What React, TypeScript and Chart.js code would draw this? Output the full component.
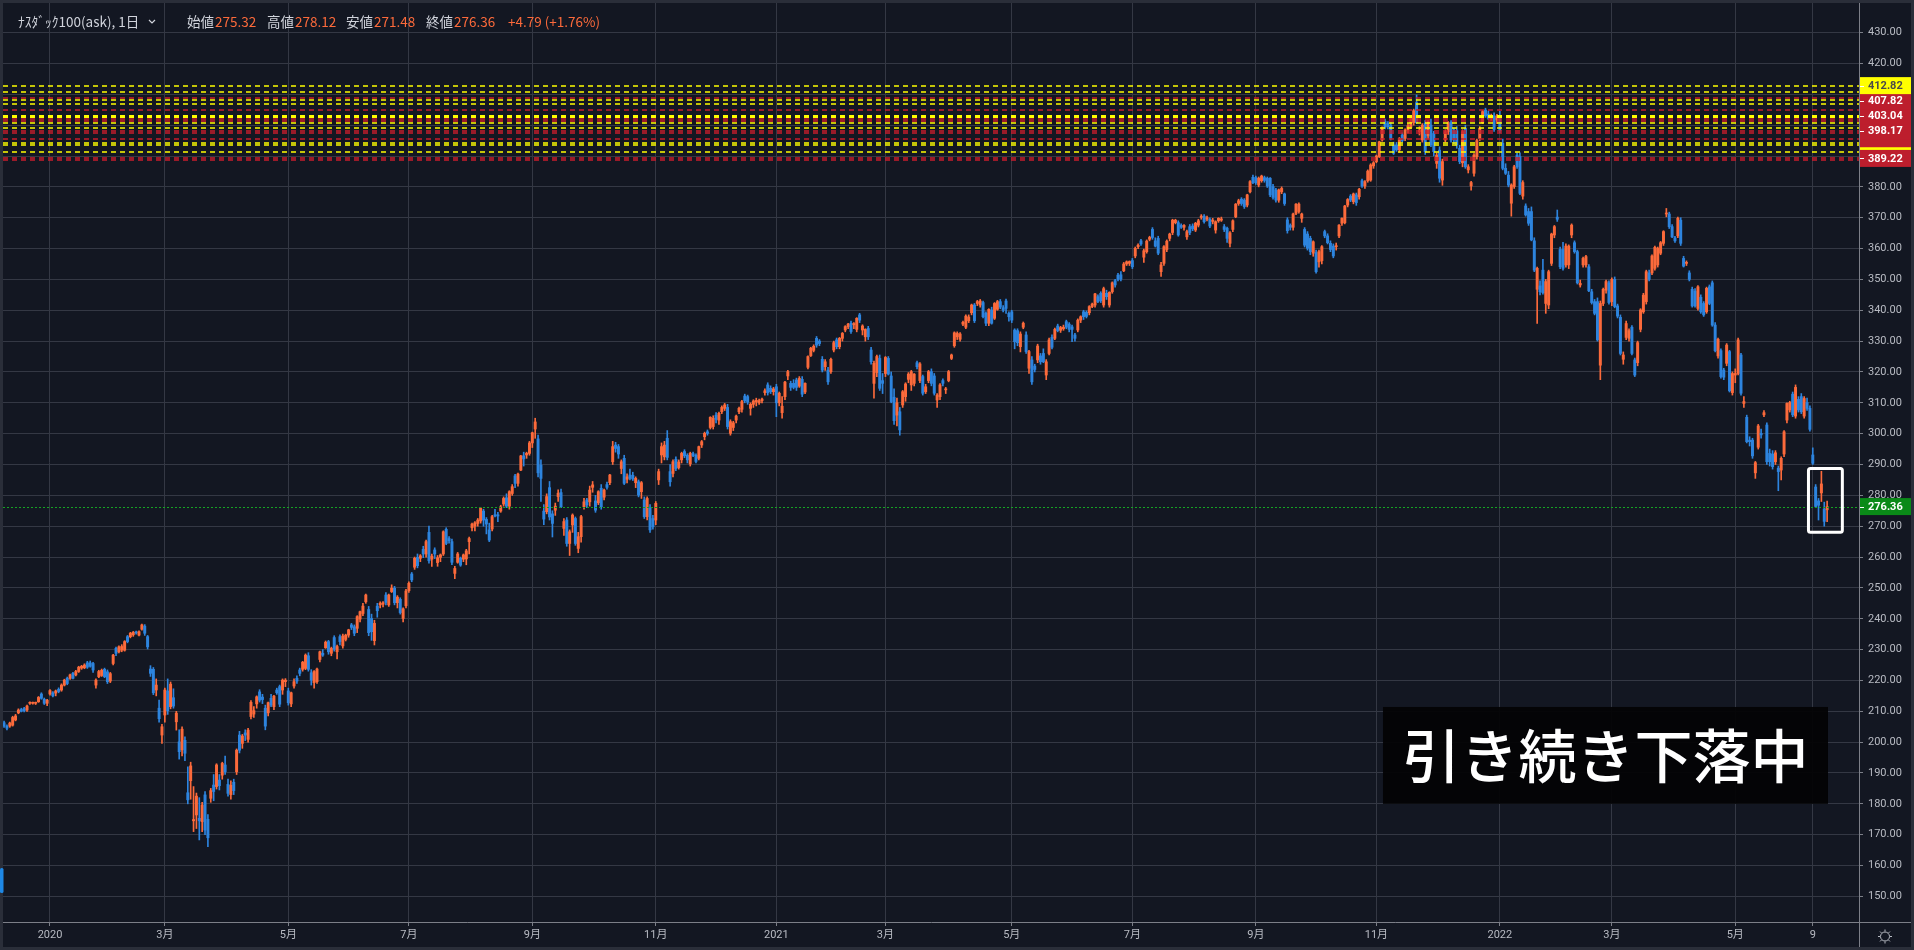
import { useEffect, useRef } from "react";
import { Chart, registerables } from "chart.js";

Chart.register(...registerables);

// [open, high, low, close] per trading day
type Candle = [number, number, number, number];

const dec2019: Candle[] = [
  [206.3, 206.8, 204.8, 205.2], [205.2, 205.6, 204.0, 204.5], [205.2, 206.5, 204.8, 206.2], [205.5, 208.4, 205.2, 208.0],
  [207.2, 209.0, 206.9, 208.5], [209.5, 210.8, 209.2, 210.4], [210.6, 211.0, 209.8, 210.0], [210.9, 211.3, 209.8, 210.2],
  [210.4, 212.0, 210.0, 211.7], [212.6, 213.1, 212.2, 212.8], [212.6, 213.0, 212.3, 212.9], [212.6, 213.0, 212.2, 212.8],
  [213.1, 214.8, 212.9, 214.5], [215.6, 216.0, 213.9, 214.2], [213.9, 214.3, 212.2, 212.6], [212.6, 213.9, 211.8, 213.6],
];
const jan2020: Candle[] = [
  [215.6, 217.0, 215.2, 216.7], [216.0, 216.4, 214.7, 215.0], [215.9, 216.9, 215.0, 216.6], [217.1, 217.6, 216.0, 216.4],
  [216.9, 218.9, 216.5, 218.5], [218.5, 220.4, 218.2, 220.1], [220.7, 221.1, 218.6, 219.0], [220.7, 222.1, 220.3, 221.8],
  [222.3, 222.6, 220.5, 220.7], [221.8, 223.3, 221.5, 222.9], [222.9, 224.6, 222.6, 224.3], [224.0, 224.9, 223.6, 224.6],
  [224.1, 225.4, 223.8, 225.0], [225.7, 226.2, 223.9, 224.3], [225.7, 226.3, 224.3, 224.6], [225.5, 225.9, 222.6, 223.4],
  [218.5, 220.5, 217.5, 220.1], [221.2, 223.3, 220.9, 222.9], [221.6, 223.7, 221.3, 223.3], [223.6, 224.0, 220.9, 221.2],
  [222.8, 223.4, 219.0, 219.6],
];
const feb2020: Candle[] = [
  [219.8, 222.6, 219.3, 222.2], [225.5, 228.5, 225.0, 228.2], [230.4, 230.8, 228.0, 228.8], [229.3, 231.2, 228.9, 230.9],
  [229.8, 231.6, 229.3, 231.0], [229.8, 232.9, 229.5, 232.6], [234.2, 234.6, 232.2, 232.6], [234.2, 235.6, 233.8, 235.3],
  [234.8, 235.9, 234.3, 235.6], [235.6, 236.0, 235.0, 235.4], [234.7, 236.1, 234.4, 235.8], [236.6, 238.3, 236.3, 238.0],
  [237.6, 238.1, 234.6, 235.3], [234.2, 234.6, 230.2, 230.9], [223.7, 224.8, 221.3, 222.3], [223.6, 224.2, 215.4, 216.0],
  [216.9, 220.5, 215.0, 218.5], [211.0, 213.6, 206.5, 207.6], [202.3, 205.8, 199.6, 205.0],
];
const mar2020: Candle[] = [
  [208.8, 217.5, 206.5, 216.9], [216.6, 220.5, 209.0, 210.2], [211.5, 219.5, 210.8, 218.8], [214.4, 217.3, 211.0, 211.7],
  [206.6, 210.0, 203.9, 209.4], [200.1, 204.0, 194.5, 196.9], [197.5, 205.0, 195.5, 204.2], [200.6, 201.7, 194.0, 196.4],
  [183.6, 192.0, 180.0, 181.3], [187.5, 193.5, 181.5, 192.3], [174.5, 185.6, 171.0, 174.9], [176.4, 183.5, 172.0, 182.5],
  [175.3, 182.0, 168.3, 174.5], [174.2, 180.5, 171.0, 179.6], [182.9, 184.0, 170.0, 171.5], [175.0, 176.5, 166.1, 169.0],
  [181.8, 185.0, 180.5, 184.3], [186.1, 189.5, 181.0, 184.0], [185.6, 193.0, 184.8, 192.6], [187.7, 189.5, 184.5, 185.9],
  [189.3, 193.5, 188.0, 193.1], [192.6, 195.5, 189.5, 190.4],
];
const apr2020: Candle[] = [
  [186.3, 188.0, 182.5, 183.4], [183.0, 187.5, 181.5, 186.0], [187.0, 188.0, 183.0, 184.3], [190.4, 197.8, 189.5, 197.4],
  [202.3, 203.5, 196.5, 197.4], [199.6, 202.5, 198.0, 202.0], [203.0, 204.0, 200.5, 202.3], [200.9, 204.5, 200.0, 203.9],
  [208.3, 213.5, 207.5, 212.9], [209.1, 211.5, 208.0, 210.2], [212.4, 215.0, 211.0, 214.7], [216.3, 217.0, 213.0, 213.6],
  [214.6, 215.5, 212.5, 213.8], [211.0, 212.0, 204.0, 205.2], [209.5, 213.0, 208.5, 212.8], [214.2, 215.5, 211.5, 212.0],
  [211.5, 215.2, 210.5, 214.9], [216.9, 217.5, 215.5, 216.0], [218.0, 218.5, 211.5, 212.3], [216.9, 220.5, 215.5, 220.1],
  [219.6, 220.6, 218.0, 220.1],
];
const may2020: Candle[] = [
  [216.6, 217.5, 212.0, 212.8], [212.4, 216.2, 211.5, 216.0], [218.2, 220.5, 217.5, 219.6], [220.7, 221.5, 219.0, 219.8],
  [223.4, 224.0, 221.5, 222.3], [223.6, 226.2, 223.0, 225.9], [223.9, 228.6, 223.5, 228.2], [228.0, 229.0, 223.0, 223.6],
  [222.5, 223.5, 218.5, 220.1], [219.3, 223.2, 217.5, 222.9], [219.6, 224.0, 219.0, 223.7], [226.8, 229.5, 226.0, 229.3],
  [228.8, 230.0, 227.8, 228.2], [230.6, 232.8, 230.4, 232.4], [232.6, 233.0, 228.5, 229.3], [228.8, 230.8, 228.0, 230.4],
  [233.9, 234.5, 229.5, 230.1], [229.3, 231.5, 227.0, 231.0], [234.2, 234.8, 231.5, 232.6], [231.2, 235.0, 230.5, 234.4],
];
const jun2020: Candle[] = [
  [233.3, 235.0, 232.8, 234.7], [234.7, 236.6, 234.0, 236.4], [238.0, 238.5, 236.5, 237.2], [237.4, 238.0, 234.5, 235.3],
  [236.9, 241.0, 235.5, 240.7], [239.9, 242.5, 239.0, 242.3], [241.7, 245.0, 241.0, 244.1], [245.5, 248.0, 245.0, 247.7],
  [243.0, 244.0, 234.5, 235.5], [240.1, 241.5, 233.0, 235.8], [232.9, 239.5, 231.5, 238.5], [244.1, 245.0, 240.5, 242.6],
  [244.5, 245.5, 243.5, 245.0], [244.7, 245.6, 243.8, 245.2], [247.7, 248.5, 244.5, 245.3], [244.5, 248.0, 244.0, 247.7],
  [248.8, 251.0, 248.5, 249.9], [249.9, 250.5, 244.5, 245.2], [245.2, 247.5, 243.5, 247.0], [246.3, 246.8, 241.5, 242.0],
  [240.1, 243.5, 239.0, 243.2], [244.2, 249.5, 243.5, 249.0],
];
const jul2020: Candle[] = [
  [249.1, 252.0, 248.5, 251.5], [254.5, 255.0, 252.0, 252.6], [256.7, 260.0, 256.0, 259.6], [259.9, 261.0, 256.5, 257.2],
  [259.6, 260.8, 258.5, 260.4], [262.5, 263.5, 259.8, 261.0], [261.0, 265.5, 260.0, 265.0], [268.0, 270.0, 258.0, 258.8],
  [259.3, 261.0, 257.0, 260.3], [262.3, 263.0, 259.5, 261.0], [258.2, 260.5, 257.0, 259.8], [259.9, 261.0, 258.5, 260.7],
  [261.0, 268.5, 260.5, 268.2], [269.0, 269.5, 264.0, 264.4], [266.0, 266.6, 264.5, 265.3], [265.0, 265.8, 257.5, 258.3],
  [254.7, 257.0, 253.0, 256.3], [258.3, 261.5, 258.0, 261.0], [259.6, 260.0, 257.0, 257.4], [259.3, 261.0, 258.5, 260.7],
  [259.4, 262.5, 257.5, 262.0], [265.0, 266.5, 261.0, 266.0],
];
const aug2020: Candle[] = [
  [269.5, 271.0, 268.5, 270.7], [270.0, 271.5, 268.5, 271.1], [270.9, 272.5, 270.0, 272.0], [271.7, 276.0, 271.0, 275.8],
  [274.9, 275.5, 270.0, 272.0], [272.2, 272.8, 267.5, 270.7], [268.8, 271.0, 265.0, 265.5], [269.1, 273.5, 268.5, 273.1],
  [273.7, 275.5, 273.0, 273.3], [273.7, 274.5, 271.5, 273.3], [274.9, 276.8, 274.5, 276.3], [277.2, 279.5, 276.5, 279.0],
  [279.2, 280.5, 276.0, 276.5], [276.5, 281.5, 275.5, 281.2], [280.6, 283.5, 280.0, 282.8], [286.3, 286.8, 282.5, 283.9],
  [283.9, 287.2, 283.0, 286.9], [288.2, 293.0, 288.0, 292.8], [292.8, 294.0, 289.5, 291.8], [293.1, 294.0, 292.0, 293.6],
  [293.6, 297.5, 293.0, 297.0],
];
const sep2020: Candle[] = [
  [297.0, 300.5, 295.5, 300.3], [301.5, 305.0, 298.5, 303.8], [298.3, 299.5, 286.0, 287.3], [289.8, 291.5, 278.0, 285.5],
  [274.9, 277.0, 270.5, 272.3], [274.7, 280.5, 274.0, 279.6], [282.5, 284.5, 272.0, 273.0], [274.0, 275.0, 266.5, 270.9],
  [275.2, 277.5, 273.5, 276.5], [279.6, 281.8, 278.0, 280.7], [280.9, 282.0, 276.0, 276.3], [269.3, 272.5, 267.0, 271.5],
  [272.0, 272.8, 263.5, 264.4], [264.4, 268.8, 260.5, 268.2], [270.4, 274.0, 268.0, 273.6], [272.5, 273.0, 263.8, 264.4],
  [262.8, 268.0, 261.4, 266.6], [266.6, 273.5, 264.8, 273.1], [276.3, 279.0, 275.5, 277.9], [278.5, 279.0, 276.0, 276.9],
  [277.9, 283.0, 276.5, 281.7],
];
const oct2020: Candle[] = [
  [282.6, 284.5, 281.0, 283.4], [278.2, 280.0, 274.5, 275.2], [277.6, 281.5, 277.0, 281.2], [282.3, 283.5, 275.5, 276.3],
  [279.4, 282.0, 278.5, 281.7], [283.5, 284.3, 282.0, 282.6], [284.1, 286.8, 283.5, 286.6], [290.9, 297.5, 290.0, 295.8],
  [296.3, 297.2, 294.0, 295.2], [295.8, 296.5, 292.0, 293.4], [288.7, 291.5, 287.0, 290.9], [292.0, 293.0, 283.5, 283.9],
  [285.2, 287.0, 284.0, 286.0], [286.6, 288.5, 285.0, 285.5], [286.5, 287.5, 284.8, 285.3], [284.1, 286.0, 282.5, 285.5],
  [284.4, 285.0, 279.5, 280.1], [281.2, 284.5, 279.0, 284.1], [278.5, 279.5, 272.5, 273.1], [273.1, 279.5, 272.0, 279.0],
  [275.8, 277.0, 268.0, 268.8], [272.5, 273.5, 269.0, 269.8],
];
const nov2020: Candle[] = [
  [272.0, 278.0, 270.5, 277.4], [285.0, 288.5, 283.5, 287.7], [293.1, 297.0, 290.5, 295.8], [292.5, 297.5, 291.5, 296.3],
  [298.5, 301.0, 291.5, 292.3], [287.7, 290.0, 283.0, 284.4], [287.1, 291.5, 286.0, 290.9], [291.7, 292.5, 288.0, 288.7],
  [289.0, 291.5, 288.5, 290.8], [291.5, 294.0, 290.5, 293.6], [294.2, 294.8, 292.2, 292.8], [293.0, 293.5, 290.5, 291.5],
  [290.2, 294.0, 289.5, 293.6], [293.5, 294.0, 292.5, 292.9], [293.0, 293.5, 290.5, 291.0], [292.0, 296.0, 291.5, 295.8],
  [296.3, 297.8, 295.5, 297.4], [299.0, 300.5, 298.0, 300.1], [300.6, 301.2, 299.5, 300.1], [302.0, 305.5, 301.5, 305.3],
];
const dec2020: Candle[] = [
  [302.3, 305.8, 301.5, 305.0], [306.0, 306.8, 303.5, 304.6], [304.4, 307.0, 303.0, 306.6], [307.1, 309.0, 306.5, 308.5],
  [308.2, 309.8, 307.5, 309.3], [308.5, 309.5, 301.5, 302.3], [300.1, 304.5, 299.5, 303.9], [302.0, 304.0, 301.0, 303.5],
  [304.4, 306.0, 303.5, 305.7], [307.1, 308.6, 306.5, 308.2], [307.9, 310.8, 307.0, 310.4], [312.2, 312.8, 310.0, 310.7],
  [312.0, 312.5, 309.5, 310.2], [308.2, 310.0, 306.0, 309.5], [309.5, 311.0, 308.5, 310.6], [310.3, 311.5, 309.0, 310.8],
  [310.0, 311.2, 309.5, 310.7], [310.7, 311.5, 310.0, 311.2], [313.3, 314.5, 312.5, 313.9], [315.8, 316.5, 312.5, 313.3],
  [314.7, 315.5, 313.0, 313.6], [313.6, 315.0, 312.5, 314.5],
];
const jan2021: Candle[] = [
  [315.2, 316.0, 305.5, 310.0], [310.0, 313.5, 309.0, 313.1], [306.8, 312.0, 305.0, 308.9], [312.0, 317.0, 311.0, 316.7],
  [318.7, 320.5, 317.5, 320.1], [316.3, 317.0, 314.0, 315.0], [316.3, 317.5, 314.5, 315.0], [317.4, 318.0, 314.0, 315.0],
  [315.4, 318.5, 315.0, 317.9], [317.6, 318.5, 312.0, 312.8], [313.5, 316.5, 313.0, 316.3], [321.5, 325.2, 321.0, 325.0],
  [325.3, 328.0, 325.0, 327.7], [327.0, 328.8, 326.5, 328.3], [330.9, 331.5, 328.0, 328.7], [330.0, 330.5, 328.5, 329.2],
  [324.1, 325.0, 320.0, 320.6], [321.7, 324.0, 320.5, 323.3], [320.6, 321.5, 316.0, 316.8],
];
const feb2021: Candle[] = [
  [320.1, 324.5, 319.5, 324.1], [327.1, 330.0, 326.5, 329.5], [330.4, 331.0, 327.5, 328.2], [328.2, 331.2, 327.5, 330.9],
  [330.9, 332.8, 330.0, 332.5], [333.6, 335.0, 333.0, 334.7], [334.7, 335.8, 334.0, 335.5], [335.8, 336.5, 332.5, 333.1],
  [335.3, 336.0, 334.0, 335.7], [333.8, 337.6, 333.0, 337.4], [338.5, 339.0, 336.0, 336.8], [333.6, 335.3, 332.0, 334.9],
  [331.4, 334.0, 330.0, 333.8], [334.1, 334.8, 330.5, 331.4], [327.1, 328.0, 322.5, 323.3], [316.3, 323.5, 311.5, 322.8],
  [319.8, 325.5, 318.5, 325.0], [324.4, 325.5, 314.0, 314.7], [317.2, 319.5, 313.0, 316.3],
];
const mar2021: Candle[] = [
  [319.5, 325.0, 318.5, 324.7], [324.4, 325.0, 319.0, 319.3], [318.7, 320.0, 310.0, 310.4], [311.8, 314.5, 303.0, 304.2],
  [306.0, 311.5, 302.5, 310.0], [307.1, 308.5, 299.5, 301.2], [309.3, 314.0, 308.5, 313.6], [312.0, 316.5, 310.5, 316.1],
  [317.6, 319.8, 316.5, 319.3], [315.8, 320.5, 314.0, 320.1], [316.3, 319.5, 315.5, 319.3], [323.0, 323.5, 321.0, 321.7],
  [317.2, 323.0, 316.5, 322.6], [318.5, 319.0, 312.5, 313.1], [313.6, 316.0, 313.0, 315.2], [317.2, 320.5, 316.5, 320.1],
  [320.1, 321.0, 315.5, 316.3], [318.7, 319.5, 312.5, 313.1], [310.9, 313.0, 308.5, 312.5], [312.0, 316.2, 311.0, 315.8],
  [317.2, 317.8, 315.5, 316.3], [314.2, 315.0, 313.0, 314.5], [317.2, 320.5, 316.8, 320.1],
];
const apr2021: Candle[] = [
  [324.4, 325.8, 324.0, 325.5], [328.5, 333.0, 328.0, 332.7], [331.4, 333.0, 330.5, 332.5], [330.6, 332.8, 330.0, 332.3],
  [335.5, 336.5, 335.0, 336.1], [334.5, 338.5, 334.0, 338.1], [336.6, 338.5, 336.0, 337.8], [339.2, 342.0, 338.5, 341.7],
  [341.7, 342.2, 336.0, 336.6], [342.2, 343.2, 341.5, 342.8], [341.7, 343.5, 341.0, 343.0], [342.5, 343.0, 337.5, 337.9],
  [339.0, 339.5, 335.0, 335.8], [335.8, 340.5, 335.0, 340.3], [340.1, 341.0, 335.5, 335.8], [337.4, 342.5, 337.0, 342.2],
  [340.3, 343.2, 340.0, 342.8], [342.8, 343.5, 340.5, 341.0], [340.8, 341.5, 339.5, 340.0], [343.0, 343.6, 339.0, 340.6],
  [339.0, 339.5, 336.5, 337.9],
];
const may2021: Candle[] = [
  [339.5, 340.0, 336.0, 336.8], [333.6, 334.0, 327.5, 329.8], [333.4, 334.0, 328.5, 329.5], [328.2, 333.0, 326.5, 332.3],
  [334.5, 336.2, 334.0, 335.8], [332.0, 333.0, 326.0, 326.6], [321.2, 327.0, 319.5, 326.6], [323.9, 325.0, 316.0, 316.8],
  [321.9, 322.5, 320.0, 320.8], [323.9, 329.0, 323.0, 328.4], [325.2, 326.0, 322.5, 323.3], [326.0, 327.5, 323.0, 323.3],
  [319.0, 324.0, 317.5, 323.3], [326.0, 331.0, 325.5, 330.4], [331.2, 332.0, 327.5, 328.0], [330.9, 334.2, 330.5, 333.8],
  [334.9, 335.5, 333.0, 333.4], [333.5, 334.8, 332.8, 334.4], [334.0, 335.2, 333.5, 334.5], [336.3, 336.8, 334.0, 334.5],
];
const jun2021: Candle[] = [
  [335.5, 336.0, 333.0, 333.8], [334.6, 335.2, 329.8, 333.8], [332.0, 332.5, 330.0, 330.9], [333.6, 337.2, 333.0, 336.8],
  [336.8, 338.2, 336.0, 337.9], [339.5, 340.0, 337.0, 337.9], [339.3, 339.8, 337.5, 338.0], [339.2, 341.5, 338.5, 341.2],
  [341.2, 342.3, 340.8, 342.0], [341.7, 345.5, 341.0, 345.3], [344.4, 345.0, 342.5, 342.8], [345.5, 346.0, 342.5, 343.1],
  [341.7, 347.5, 341.0, 347.0], [345.5, 346.5, 343.5, 344.4], [341.7, 346.0, 341.0, 345.8], [346.0, 349.2, 345.5, 348.9],
  [349.6, 350.0, 347.5, 348.2], [351.4, 352.0, 349.5, 350.0], [351.5, 352.5, 349.5, 350.1], [352.8, 355.5, 352.5, 355.0],
  [355.0, 356.0, 354.5, 355.7], [355.2, 356.0, 354.5, 355.8],
];
const jul2021: Candle[] = [
  [356.1, 356.8, 353.5, 354.1], [357.6, 360.5, 357.0, 360.1], [360.6, 361.5, 360.0, 361.1], [362.5, 363.0, 361.0, 361.5],
  [357.2, 359.8, 355.5, 359.3], [359.0, 362.8, 358.5, 362.4], [363.0, 364.0, 362.5, 363.6], [366.2, 366.8, 363.0, 363.6],
  [362.5, 363.5, 360.5, 360.8], [363.3, 364.0, 358.0, 358.5], [352.5, 355.5, 351.0, 354.7], [355.2, 361.0, 354.5, 360.6],
  [359.7, 362.8, 359.0, 362.4], [363.3, 365.0, 362.5, 364.7], [365.2, 369.5, 364.5, 369.2], [368.4, 369.5, 368.0, 369.2],
  [368.4, 369.0, 364.0, 364.4], [367.5, 368.0, 366.5, 366.9], [366.9, 367.8, 366.0, 367.5], [363.8, 366.0, 363.0, 365.5],
  [367.1, 367.8, 364.5, 365.2],
];
const aug2021: Candle[] = [
  [367.3, 368.0, 365.8, 366.4], [366.0, 368.5, 365.5, 368.2], [367.6, 369.5, 367.0, 369.0], [370.1, 371.0, 369.5, 370.5],
  [370.5, 371.0, 368.2, 368.7], [369.5, 370.5, 369.0, 370.0], [369.5, 370.0, 366.8, 367.3], [368.8, 369.8, 368.0, 369.2],
  [366.0, 369.0, 365.0, 368.7], [369.0, 370.0, 368.5, 369.8], [369.2, 370.2, 368.8, 369.6], [367.1, 367.8, 365.5, 366.2],
  [366.6, 367.0, 362.0, 363.3], [361.7, 365.5, 360.5, 365.1], [366.2, 369.3, 365.5, 369.0], [370.3, 374.6, 370.0, 374.4],
  [374.6, 376.0, 374.0, 375.5], [376.0, 376.5, 374.0, 374.6], [375.7, 376.2, 373.0, 373.6], [374.1, 377.6, 373.5, 377.4],
  [378.4, 382.0, 378.0, 381.7], [383.1, 383.8, 381.0, 381.4],
];
const sep2021: Candle[] = [
  [383.0, 383.5, 380.8, 381.3], [380.6, 383.2, 380.0, 382.8], [382.0, 383.8, 381.5, 383.5], [383.0, 383.5, 381.5, 382.1],
  [382.8, 383.2, 379.8, 380.3], [382.8, 383.0, 376.8, 377.4], [380.1, 380.8, 376.0, 376.6], [379.0, 379.5, 375.0, 375.7],
  [375.7, 379.3, 375.0, 379.0], [378.4, 380.0, 377.8, 379.5], [377.7, 378.0, 374.0, 374.6], [369.3, 370.0, 365.0, 365.8],
  [367.5, 368.0, 366.0, 366.9], [366.9, 371.5, 366.0, 371.2], [371.4, 374.6, 371.0, 374.4], [372.0, 374.8, 371.5, 374.4],
  [369.8, 371.5, 368.5, 371.2], [366.2, 366.8, 360.5, 361.1], [364.7, 365.5, 359.5, 360.1], [363.3, 364.0, 358.0, 359.0],
  [358.5, 362.5, 357.5, 362.2],
];
const oct2021: Candle[] = [
  [358.7, 359.5, 352.0, 352.5], [355.7, 359.5, 354.0, 359.0], [356.1, 361.0, 355.0, 360.6], [365.5, 366.0, 363.5, 364.1],
  [364.1, 364.8, 361.5, 361.9], [361.7, 362.5, 359.0, 359.7], [360.8, 361.5, 357.0, 357.6], [360.6, 361.8, 359.5, 360.8],
  [364.1, 367.8, 363.5, 367.6], [368.2, 370.0, 367.5, 369.8], [368.4, 374.0, 368.0, 373.8], [374.1, 376.2, 373.5, 375.9],
  [377.0, 377.5, 375.2, 375.7], [375.2, 378.0, 374.5, 377.7], [377.4, 378.0, 374.0, 374.9], [376.8, 379.5, 376.0, 379.2],
  [382.0, 382.5, 379.8, 380.3], [380.3, 382.0, 379.5, 381.7], [382.0, 385.5, 381.5, 385.1], [382.2, 387.5, 381.8, 387.1],
  [386.8, 388.2, 386.0, 387.8],
];
const nov2021: Candle[] = [
  [388.2, 390.3, 387.8, 390.0], [389.8, 394.8, 389.5, 394.6], [395.2, 399.5, 394.8, 399.3], [401.3, 402.0, 398.8, 399.3],
  [400.6, 401.2, 398.8, 399.5], [400.0, 400.8, 395.2, 395.7], [393.6, 394.5, 390.5, 390.9], [393.6, 394.4, 391.5, 392.0],
  [392.0, 396.0, 391.2, 395.7], [396.8, 397.5, 394.5, 395.0], [395.7, 398.8, 395.0, 398.4], [398.4, 400.5, 397.5, 399.8],
  [399.3, 403.0, 398.8, 402.7], [400.8, 405.2, 400.0, 404.7], [407.3, 409.8, 400.5, 400.8], [397.9, 399.5, 396.8, 398.4],
  [395.2, 400.5, 394.5, 400.0], [400.6, 401.5, 390.5, 391.4], [396.5, 401.5, 395.5, 401.1], [400.0, 402.0, 393.0, 393.6],
  [397.3, 398.0, 390.0, 391.4],
];
const dec2021: Candle[] = [
  [387.6, 391.0, 386.0, 390.3], [391.9, 393.0, 381.5, 382.8], [382.2, 389.0, 380.5, 388.2], [395.2, 398.5, 394.5, 397.9],
  [397.9, 401.2, 397.0, 400.8], [400.9, 401.5, 394.5, 395.2], [398.2, 399.0, 394.0, 395.2], [398.2, 399.5, 392.5, 393.6],
  [392.5, 393.5, 387.5, 388.2], [387.8, 398.5, 386.5, 397.9], [399.0, 400.0, 386.0, 386.5], [385.5, 387.2, 384.5, 386.5],
  [380.3, 381.8, 378.9, 381.4], [384.4, 390.8, 383.5, 390.3], [389.8, 395.5, 389.0, 395.0], [395.7, 399.5, 395.0, 399.0],
  [400.8, 404.8, 400.5, 404.4], [404.9, 405.5, 402.5, 403.0], [403.6, 404.6, 401.8, 402.2], [402.2, 403.6, 401.5, 403.0],
  [403.0, 404.0, 398.0, 398.6], [401.7, 403.5, 400.5, 403.0],
];
const jan2022: Candle[] = [
  [402.7, 404.5, 397.5, 398.2], [394.1, 395.5, 385.5, 386.0], [386.0, 387.5, 384.0, 384.4], [383.8, 385.0, 380.0, 380.6],
  [374.7, 381.0, 370.5, 380.6], [380.1, 387.0, 379.5, 386.5], [390.3, 391.0, 386.0, 386.5], [389.8, 391.0, 377.5, 377.9],
  [377.0, 382.0, 376.0, 381.4], [373.8, 374.5, 370.5, 370.9], [372.0, 373.0, 367.5, 368.2], [372.0, 373.5, 362.5, 362.8],
  [362.5, 363.5, 352.5, 353.0], [346.8, 354.0, 335.7, 353.6], [347.9, 349.5, 345.0, 346.0], [353.0, 356.5, 345.2, 345.7],
  [342.2, 350.0, 339.0, 349.3], [341.7, 353.0, 340.5, 352.5], [355.2, 365.0, 354.5, 364.7], [364.4, 367.5, 363.5, 367.1],
];
const feb2022: Candle[] = [
  [370.2, 372.5, 368.8, 369.5], [359.7, 360.5, 353.5, 354.1], [359.7, 362.0, 353.0, 353.6], [354.7, 361.5, 354.0, 360.8],
  [354.7, 361.2, 353.5, 360.8], [364.4, 368.0, 363.5, 367.6], [361.9, 362.5, 358.5, 359.0], [359.0, 359.5, 348.5, 348.9],
  [348.2, 349.8, 347.5, 348.7], [354.7, 357.2, 354.0, 356.8], [354.7, 357.8, 354.0, 357.4], [354.1, 354.8, 346.0, 346.3],
  [346.0, 346.8, 342.0, 342.5], [342.8, 343.5, 338.5, 339.0], [342.8, 344.0, 330.0, 330.4], [322.2, 343.0, 317.5, 342.2],
  [342.2, 347.2, 341.5, 346.8], [346.5, 349.8, 345.5, 349.3], [348.9, 349.5, 342.0, 342.5],
];
const mar2022: Candle[] = [
  [342.8, 350.5, 341.5, 350.0], [350.0, 350.8, 340.8, 341.2], [341.4, 342.0, 337.5, 338.1], [337.7, 338.5, 325.5, 326.0],
  [324.1, 326.5, 322.5, 325.5], [331.2, 336.5, 330.5, 335.7], [330.9, 334.0, 330.0, 333.4], [334.5, 335.0, 325.5, 326.0],
  [323.9, 324.5, 318.5, 319.0], [323.0, 330.0, 322.0, 329.5], [333.8, 340.5, 333.0, 340.1], [339.5, 345.5, 339.0, 344.9],
  [342.8, 353.0, 342.0, 352.5], [352.1, 353.0, 349.5, 350.0], [352.1, 358.0, 351.5, 357.6], [353.6, 360.8, 353.0, 360.4],
  [354.7, 360.5, 354.0, 360.1], [358.5, 362.3, 358.0, 361.9], [361.7, 365.8, 361.0, 365.5], [371.2, 373.0, 370.3, 371.4],
  [371.2, 371.8, 366.5, 367.1], [367.1, 367.8, 363.5, 363.8], [363.5, 364.0, 362.0, 362.5],
];
const apr2022: Candle[] = [
  [364.1, 370.2, 363.5, 369.8], [369.2, 370.0, 361.0, 361.7], [356.8, 357.5, 354.0, 354.3], [355.2, 356.0, 354.5, 355.5],
  [352.1, 352.8, 349.5, 350.0], [346.8, 347.5, 341.0, 341.4], [346.2, 347.0, 341.0, 341.4], [340.6, 348.0, 340.0, 347.6],
  [344.2, 345.0, 339.0, 339.5], [342.2, 342.8, 338.0, 338.5], [339.5, 347.5, 339.0, 347.1], [347.6, 348.2, 341.8, 342.2],
  [348.9, 349.5, 334.8, 335.2], [335.2, 336.0, 326.5, 326.9], [325.2, 331.0, 324.5, 330.6], [326.9, 327.5, 318.0, 318.5],
  [320.6, 321.2, 317.5, 318.3], [322.8, 329.2, 322.0, 328.7], [326.6, 327.0, 313.5, 313.9], [313.3, 320.0, 312.5, 319.5],
];
const may2022: Candle[] = [
  [319.0, 321.0, 316.5, 319.5], [319.5, 331.0, 319.0, 330.4], [325.5, 326.0, 312.5, 313.1], [309.8, 312.0, 308.5, 310.4],
  [305.3, 306.0, 297.0, 297.4], [297.9, 299.0, 296.0, 297.4], [297.9, 298.5, 292.0, 292.8], [287.3, 291.0, 285.5, 290.6],
  [295.6, 303.0, 295.0, 302.5], [300.1, 301.5, 298.5, 299.6], [306.1, 307.5, 305.5, 306.8], [302.8, 303.5, 290.0, 290.9],
  [293.6, 295.0, 289.5, 290.9], [293.4, 294.5, 288.5, 289.3], [290.9, 294.5, 290.0, 293.8], [288.8, 289.5, 281.5, 287.7],
  [288.2, 292.5, 285.0, 292.0], [293.4, 301.0, 292.5, 300.6], [304.4, 310.0, 303.5, 309.8], [307.7, 310.5, 307.0, 310.1],
  [312.8, 313.5, 305.5, 306.1],
];
const jun2022: Candle[] = [
  [305.7, 315.8, 305.0, 315.0], [311.1, 312.0, 307.0, 307.7], [312.0, 313.0, 306.5, 307.1], [305.7, 312.0, 305.0, 311.4],
  [310.1, 311.5, 307.5, 308.2], [308.2, 309.0, 300.8, 301.4], [293.1, 295.4, 290.0, 290.4], [282.7, 283.5, 276.0, 276.4],
  [278.2, 279.0, 272.0, 276.8], [280.8, 287.8, 278.0, 283.7], [275.6, 277.8, 270.0, 271.57], [275.32, 278.12, 271.48, 276.36],
];

const months: Candle[][] = [
  dec2019, jan2020, feb2020, mar2020, apr2020, may2020, jun2020, jul2020, aug2020, sep2020, oct2020, nov2020, dec2020,
  jan2021, feb2021, mar2021, apr2021, may2021, jun2021, jul2021, aug2021, sep2021, oct2021, nov2021, dec2021,
  jan2022, feb2022, mar2022, apr2022, may2022, jun2022,
];
const monthTickLabels = [
  "", "2020", "", "3月", "", "5月", "", "7月", "", "9月", "", "11月", "",
  "2021", "", "3月", "", "5月", "", "7月", "", "9月", "", "11月", "",
  "2022", "", "3月", "", "5月", "",
];
const dayTick = { month: 30, offset: 6, label: "9" };
const priceTicks = [150, 160, 170, 180, 190, 200, 210, 220, 230, 240, 250, 260, 270, 280, 290, 300, 310, 320, 330, 340, 350, 360, 370, 380, 390, 400, 410, 420, 430];

const yellowLevels = [412.82, 410.75, 408.15, 406.86, 400.6, 399.17, 394.1, 393.47, 391.3];
const thickYellowLevel = 403.04;
const redLevels = [408.8, 404.9, 401.9, 401.5, 398.17, 397.55, 395.6, 389.22, 388.7];
const tagBoxes = [
  { v: 391.3, kind: "y" }, { v: 395.6, kind: "r" }, { v: 398.17, kind: "r" }, { v: 403.04, kind: "r" },
  { v: 407.82, kind: "r" }, { v: 412.82, kind: "y" }, { v: 389.22, kind: "r" },
];
const tagTexts = [412.82, 407.82, 403.04, 398.17, 389.22];

const noteText = "引き続き下落中";
const noteBox = { x0: 480.3, x1: 635.3, yTop: 211.4, yBottom: 180.0 };
const highlightBox = { x0: 628.5, x1: 640.3, yTop: 288.7, yBottom: 268.0 };

const X_MIN = -0.37;
const X_MAX = 646.1;
const Y_MIN = 141.7;
const Y_MAX = 439.6;

const BG = "#131722";
const FRAME = "#2a2e39";
const GRID = "#343844";
const AXIS = "#7c7f88";
const TEXT = "#b8bbc3";
const UP = "#fc6a3b";
const DOWN = "#2d84de";
const YELLOW = "#ffff00";
const RED = "#c81e2c";
const TAG_RED = "#bd1e2d";
const GREEN = "#0a8a18";
const GREEN_LINE = "#16a323";
const AXIS_FONT = 'Roboto, "Liberation Sans", "Noto Sans CJK JP", sans-serif';
const JP_FONT = '"Noto Sans CJK JP", "Noto Sans", sans-serif';

export default function App() {
  const ref = useRef<HTMLCanvasElement | null>(null);

  useEffect(() => {
    document.body.style.margin = "0";
    document.body.style.overflow = "hidden";
    const canvas = ref.current;
    if (!canvas) return;

    const candles: Candle[] = months.flat();
    const monthStarts: number[] = [];
    let acc = 0;
    months.forEach((m) => { monthStarts.push(acc); acc += m.length; });
    const tickMap = new Map<number, string>();
    monthTickLabels.forEach((lab, i) => { if (lab) tickMap.set(monthStarts[i], lab); });
    tickMap.set(monthStarts[dayTick.month] + dayTick.offset, dayTick.label);
    const xTicks = Array.from(tickMap.keys()).sort((a, b) => a - b);

    const colors = candles.map((c) => (c[3] >= c[0] ? UP : DOWN));
    const wickData = candles.map((c, i) => ({ x: i, y: [c[2], c[1]] }));
    const bodyData = candles.map((c, i) => ({ x: i, y: [Math.min(c[0], c[3]), Math.max(c[0], c[3])] }));
    const last = candles[candles.length - 1];
    const prevClose = candles[candles.length - 2][3];
    const change = last[3] - prevClose;
    const changePct = (change / prevClose) * 100;

    const decor = {
      id: "decor",
      beforeDraw(chart: any) {
        const { ctx, width, height } = chart;
        ctx.save();
        ctx.fillStyle = FRAME;
        ctx.fillRect(0, 0, width, height);
        ctx.fillStyle = BG;
        ctx.fillRect(3, 3, width - 6, height - 6);
        ctx.restore();
      },
      afterDatasetsDraw(chart: any) {
        const { ctx, chartArea: a, scales } = chart;
        const x = scales.x, y = scales.y;
        ctx.save();
        ctx.beginPath();
        ctx.rect(a.left, a.top, a.right - a.left, a.bottom - a.top);
        ctx.clip();
        const hline = (v: number, color: string, w: number, dash: number[]) => {
          const py = Math.round(y.getPixelForValue(v)) + (w % 2 === 1 ? 0.5 : 0);
          ctx.strokeStyle = color;
          ctx.lineWidth = w;
          ctx.setLineDash(dash);
          ctx.beginPath();
          ctx.moveTo(a.left, py);
          ctx.lineTo(a.right, py);
          ctx.stroke();
        };
        redLevels.forEach((v) => hline(v, RED, 1.5, [5, 4]));
        yellowLevels.forEach((v) => hline(v, YELLOW, 1.5, [5, 4]));
        hline(thickYellowLevel, YELLOW, 3, [5, 4]);
        hline(last[3], GREEN_LINE, 1, [2, 2]);
        ctx.setLineDash([]);

        // note box
        const nx0 = x.getPixelForValue(noteBox.x0), nx1 = x.getPixelForValue(noteBox.x1);
        const ny0 = y.getPixelForValue(noteBox.yTop), ny1 = y.getPixelForValue(noteBox.yBottom);
        ctx.fillStyle = "rgba(3,3,4,0.94)";
        ctx.fillRect(nx0, ny0, nx1 - nx0, ny1 - ny0);
        ctx.fillStyle = "#ffffff";
        ctx.font = `500 58px ${JP_FONT}`;
        ctx.textAlign = "center";
        ctx.textBaseline = "middle";
        ctx.fillText(noteText, (nx0 + nx1) / 2, (ny0 + ny1) / 2 + 1);

        // highlight rectangle
        const hx0 = x.getPixelForValue(highlightBox.x0), hx1 = x.getPixelForValue(highlightBox.x1);
        const hy0 = y.getPixelForValue(highlightBox.yTop), hy1 = y.getPixelForValue(highlightBox.yBottom);
        ctx.strokeStyle = "#ffffff";
        ctx.lineWidth = 3;
        ctx.beginPath();
        if ((ctx as any).roundRect) (ctx as any).roundRect(hx0, hy0, hx1 - hx0, hy1 - hy0, 2);
        else ctx.rect(hx0, hy0, hx1 - hx0, hy1 - hy0);
        ctx.stroke();
        ctx.restore();
      },
      afterDraw(chart: any) {
        const { ctx, chartArea: a, scales, width, height } = chart;
        const y = scales.y;
        ctx.save();
        // axis extensions
        ctx.strokeStyle = AXIS;
        ctx.lineWidth = 1;
        ctx.beginPath();
        ctx.moveTo(a.right + 0.5, a.bottom);
        ctx.lineTo(a.right + 0.5, height - 3);
        ctx.moveTo(a.right, a.bottom + 0.5);
        ctx.lineTo(width - 3, a.bottom + 0.5);
        ctx.stroke();

        // price tags
        const tagW = width - 3 - a.right;
        tagBoxes.forEach((t) => {
          const py = y.getPixelForValue(t.v);
          ctx.fillStyle = t.kind === "y" ? YELLOW : TAG_RED;
          ctx.fillRect(a.right + 1, py - 8.5, tagW - 1, 17);
        });
        ctx.font = `bold 11px ${AXIS_FONT}`;
        ctx.textAlign = "left";
        ctx.textBaseline = "middle";
        tagTexts.forEach((v) => {
          const py = y.getPixelForValue(v);
          ctx.fillStyle = v === 412.82 ? "#4a4a4a" : "#ffffff";
          ctx.fillText(v.toFixed(2), a.right + 9, py + 0.5);
          ctx.fillStyle = "#ffffff";
          ctx.fillRect(a.right + 1, Math.round(py), 4, 1);
        });
        // last price tag
        const lpy = y.getPixelForValue(last[3]);
        ctx.fillStyle = GREEN;
        ctx.fillRect(a.right + 1, lpy - 8.5, tagW - 1, 17);
        ctx.fillStyle = "#ffffff";
        ctx.fillText(last[3].toFixed(2), a.right + 9, lpy + 0.5);
        ctx.fillRect(a.right + 1, Math.round(lpy), 4, 1);

        // header
        ctx.textBaseline = "middle";
        ctx.font = `13.5px ${JP_FONT}`;
        ctx.fillStyle = "#d1d4dc";
        ctx.fillText("ﾅｽﾀﾞｯｸ100(ask), 1日", 18, 22);
        ctx.strokeStyle = "#d1d4dc";
        ctx.lineWidth = 1.2;
        ctx.beginPath();
        ctx.moveTo(149, 20);
        ctx.lineTo(152, 23);
        ctx.lineTo(155, 20);
        ctx.stroke();
        const items: [string, number, number][] = [["始値", last[0], 187], ["高値", last[1], 267], ["安値", last[2], 346], ["終値", last[3], 426]];
        items.forEach(([lab, val, px]) => {
          ctx.fillStyle = "#d1d4dc";
          ctx.fillText(lab, px, 22);
          const w = ctx.measureText(lab).width;
          ctx.fillStyle = UP;
          ctx.fillText(val.toFixed(2), px + w + 1, 22);
        });
        ctx.fillStyle = UP;
        ctx.fillText(`${change >= 0 ? "+" : ""}${change.toFixed(2)} (${change >= 0 ? "+" : ""}${changePct.toFixed(2)}%)`, 508, 22);

        // settings icon
        const gx = a.right + 26, gy = a.bottom + 14.5;
        ctx.strokeStyle = TEXT;
        ctx.lineWidth = 1;
        ctx.beginPath();
        ctx.arc(gx, gy, 4.5, 0, Math.PI * 2);
        ctx.stroke();
        ctx.beginPath();
        for (let k = 0; k < 8; k++) {
          const ang = (k * Math.PI) / 4;
          ctx.moveTo(gx + Math.cos(ang) * 5, gy + Math.sin(ang) * 5);
          ctx.lineTo(gx + Math.cos(ang) * 7, gy + Math.sin(ang) * 7);
        }
        ctx.stroke();

        // left marker
        ctx.fillStyle = "#1e88e5";
        ctx.beginPath();
        if ((ctx as any).roundRect) (ctx as any).roundRect(0, 868, 3.5, 25, 1.5);
        else ctx.rect(0, 868, 3.5, 25);
        ctx.fill();
        ctx.restore();
      },
    };

    const chart = new Chart(canvas, {
      type: "bar",
      data: {
        datasets: [
          {
            label: "wick",
            data: wickData as any,
            backgroundColor: colors,
            barThickness: 1,
            grouped: false,
            borderWidth: 0,
            borderSkipped: false,
            order: 2,
          } as any,
          {
            label: "body",
            data: bodyData as any,
            backgroundColor: colors,
            barThickness: 2.3,
            minBarLength: 1,
            grouped: false,
            borderWidth: 0,
            borderSkipped: false,
            order: 1,
          } as any,
        ],
      },
      options: {
        responsive: false,
        animation: false,
        events: [],
        devicePixelRatio: 1,
        layout: { padding: { left: 3, top: 3, right: 3, bottom: 3 } },
        plugins: { legend: { display: false }, tooltip: { enabled: false } },
        scales: {
          x: {
            type: "linear",
            min: X_MIN,
            max: X_MAX,
            offset: false,
            grid: { color: GRID, offset: false, tickLength: 4, tickColor: AXIS },
            border: { color: AXIS },
            afterBuildTicks: (s: any) => { s.ticks = xTicks.map((v) => ({ value: v })); },
            afterFit: (s: any) => { s.height = 25; s.paddingLeft = 0; s.paddingRight = 0; s.paddingTop = 0; s.paddingBottom = 0; },
            ticks: {
              autoSkip: false,
              maxRotation: 0,
              padding: 3,
              color: TEXT,
              font: { size: 11, family: AXIS_FONT },
              callback: (v: any) => tickMap.get(Number(v)) ?? "",
            },
          },
          y: {
            type: "linear",
            position: "right",
            min: Y_MIN,
            max: Y_MAX,
            beginAtZero: false,
            grid: { color: GRID, tickLength: 4, tickColor: AXIS },
            border: { color: AXIS },
            afterBuildTicks: (s: any) => { s.ticks = priceTicks.map((v) => ({ value: v })); },
            afterFit: (s: any) => { s.width = 52; s.paddingTop = 0; s.paddingBottom = 0; s.paddingLeft = 0; s.paddingRight = 0; },
            ticks: {
              padding: 5,
              color: TEXT,
              font: { size: 11, family: AXIS_FONT },
              callback: (v: any) => Number(v).toFixed(2),
            },
          },
        },
      } as any,
      plugins: [decor],
    });

    return () => chart.destroy();
  }, []);

  return (
    <div style={{ width: 1914, height: 950, overflow: "hidden" }}>
      <canvas ref={ref} width={1914} height={950} style={{ display: "block", width: 1914, height: 950 }} />
    </div>
  );
}
